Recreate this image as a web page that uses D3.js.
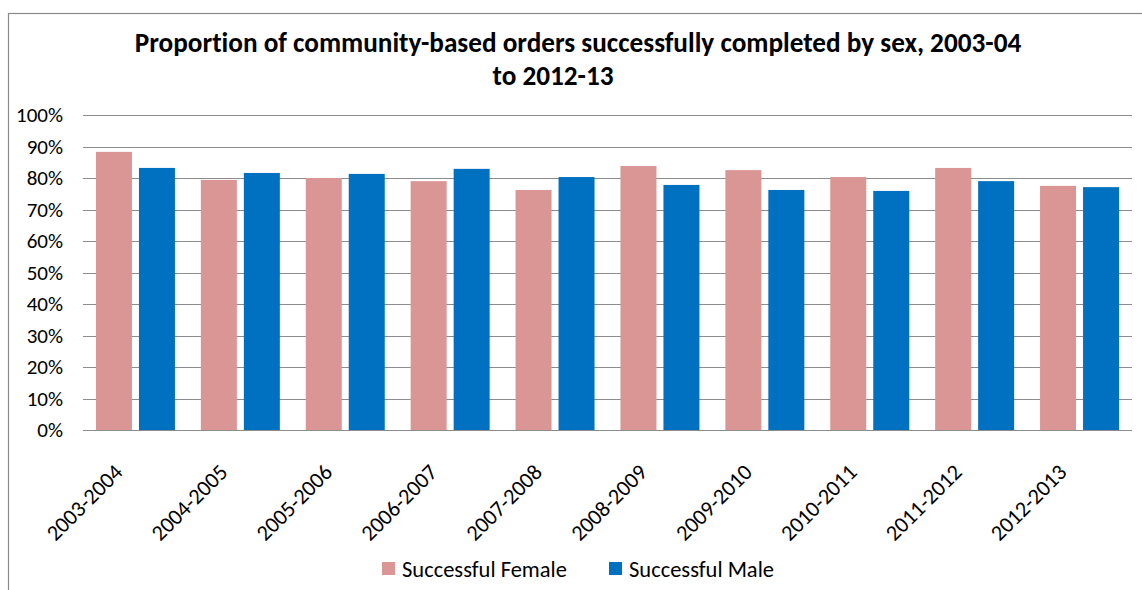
<!DOCTYPE html>
<html>
<head>
<meta charset="utf-8">
<script src="https://cdn.jsdelivr.net/npm/d3@7"></script>
<style>
  body { margin: 0; background: #fff; }
  svg text { font-family: Carlito, Calibri, Lato, "Open Sans", sans-serif; fill: #000; font-variant-ligatures: none; }
</style>
</head>
<body>
<svg id="chart" width="1142" height="590"></svg>
<script>
// Financial years shown on the x axis
const categories = ["2003-2004", "2004-2005", "2005-2006", "2006-2007", "2007-2008",
                    "2008-2009", "2009-2010", "2010-2011", "2011-2012", "2012-2013"];
const seriesNames = ["Successful Female", "Successful Male"];
// Percentage of orders successfully completed
const femaleValues = [88.3, 79.4, 80.0, 79.0, 76.2, 83.8, 82.5, 80.3, 83.2, 77.5];
const maleValues   = [83.2, 81.6, 81.3, 82.9, 80.3, 77.8, 76.2, 75.9, 79.0, 77.1];
const yTicks = [0, 10, 20, 30, 40, 50, 60, 70, 80, 90, 100];
const titleLines = ["Proportion of community-based orders successfully completed by sex, 2003-04",
                    "to 2012-13"];
const seriesColors = ["#D99694", "#0070C0"];

const svg = d3.select("#chart");
const plot = { left: 83, right: 1132, top: 115, bottom: 430 };

// Size a font so that a sample string spans a given width
function fitSize(sample, target, weight) {
  const t = svg.append("text").attr("font-size", 100).attr("font-weight", weight || "normal").text(sample);
  const w = t.node().getComputedTextLength();
  t.remove();
  return 100 * target / w;
}
const titleSize  = fitSize(titleLines[0], 887, "bold");
const tickSize   = fitSize("100%", 47);
const catSize    = fitSize("2003-2004", 97);
const legendSize = fitSize("Successful Female", 165);

// Outer chart frame
svg.append("rect")
  .attr("x", 8.5).attr("y", 13.5)
  .attr("width", 1400).attr("height", 800)
  .attr("fill", "none").attr("stroke", "#8a8a8a").attr("stroke-width", 1.2);

// Title
const titleX = [578, 553];
svg.append("g").selectAll("text").data(titleLines).join("text")
  .attr("x", (d, i) => titleX[i])
  .attr("y", (d, i) => 52 + i * 33)
  .attr("text-anchor", "middle")
  .attr("font-weight", "bold")
  .attr("font-size", titleSize)
  .text(d => d);

// Scales
const x0 = d3.scaleBand().domain(categories)
  .range([plot.left, plot.right])
  .paddingInner(0.247).paddingOuter(0.1235);
const x1 = d3.scaleBand().domain(seriesNames)
  .range([0, x0.bandwidth()])
  .paddingInner(7 / 43);
const y = d3.scaleLinear().domain([0, 100]).range([plot.bottom, plot.top]);

// Gridlines
svg.append("g").selectAll("line").data(yTicks).join("line")
  .attr("x1", plot.left).attr("x2", plot.right)
  .attr("y1", d => Math.round(y(d)) + 0.5).attr("y2", d => Math.round(y(d)) + 0.5)
  .attr("stroke", "#8c8c8c").attr("stroke-width", 1);

// Y-axis labels
const yAxis = d3.axisLeft(y).tickValues(yTicks).tickFormat(d => d + "%").tickSize(0).tickPadding(0);
const yg = svg.append("g").attr("transform", `translate(${plot.left - 20},0)`).call(yAxis);
yg.select(".domain").remove();
yg.selectAll("text").attr("font-size", tickSize).attr("font-family", null).attr("fill", "#000");

// Bars
const rows = categories.map((c, i) => ({ cat: c, vals: [femaleValues[i], maleValues[i]] }));
svg.append("g").selectAll("g").data(rows).join("g")
  .attr("transform", d => `translate(${x0(d.cat)},0)`)
  .selectAll("rect")
  .data(d => d.vals.map((v, k) => ({ name: seriesNames[k], v, k })))
  .join("rect")
  .attr("x", d => x1(d.name))
  .attr("width", x1.bandwidth())
  .attr("y", d => y(d.v))
  .attr("height", d => y(0) - y(d.v))
  .attr("fill", d => seriesColors[d.k]);

// Baseline
svg.append("line")
  .attr("x1", plot.left).attr("x2", plot.right)
  .attr("y1", Math.round(y(0)) + 0.5).attr("y2", Math.round(y(0)) + 0.5)
  .attr("stroke", "#8c8c8c");

// Rotated category labels
svg.append("g").selectAll("text").data(categories).join("text")
  .attr("transform", d => `translate(${x0(d) + x0.bandwidth() / 2 - 17},468) rotate(-45)`)
  .attr("text-anchor", "end")
  .attr("dy", "0.35em")
  .attr("font-size", catSize)
  .text(d => d);

// Legend
const legendX = [382, 609];
const lg = svg.append("g").selectAll("g").data(seriesNames).join("g")
  .attr("transform", (d, i) => `translate(${legendX[i]},562)`);
lg.append("rect").attr("width", 13).attr("height", 13).attr("fill", (d, i) => seriesColors[i]);
lg.append("text").attr("x", 20).attr("y", 7).attr("dy", "0.35em")
  .attr("font-size", legendSize).text(d => d);
</script>
</body>
</html>
